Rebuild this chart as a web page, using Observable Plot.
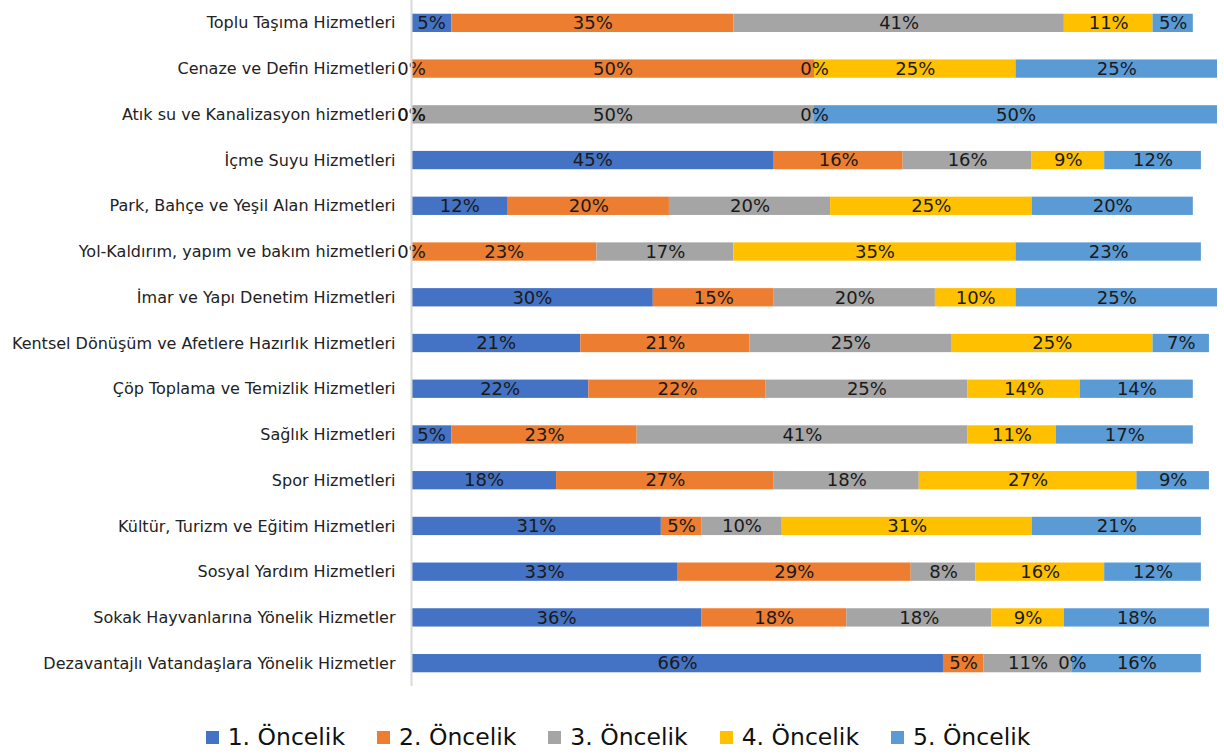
<!DOCTYPE html>
<html>
<head>
<meta charset="utf-8">
<script src="https://cdn.jsdelivr.net/npm/d3@7"></script>
<script src="https://cdn.jsdelivr.net/npm/@observablehq/plot@0.6"></script>
<style>
  html, body { margin: 0; padding: 0; background: #fff; }
  body { width: 1224px; height: 754px; overflow: hidden; font-family: "DejaVu Sans", Verdana, sans-serif; }
  #legend { display: flex; justify-content: center; align-items: center; gap: 32px; margin-top: 36px; padding-left: 12px; line-height: 30px; }
  .item { display: flex; align-items: center; font-size: 23.5px; color: #111; }
  .sw { width: 13px; height: 13px; margin-right: 9px; }
</style>
</head>
<body>
<div id="chart"></div>
<div id="legend"></div>
<script>
const categories = [
  "Toplu Taşıma Hizmetleri",
  "Cenaze ve Defin Hizmetleri",
  "Atık su ve Kanalizasyon hizmetleri",
  "İçme Suyu Hizmetleri",
  "Park, Bahçe ve Yeşil Alan Hizmetleri",
  "Yol-Kaldırım, yapım ve bakım hizmetleri",
  "İmar ve Yapı Denetim Hizmetleri",
  "Kentsel Dönüşüm ve Afetlere Hazırlık Hizmetleri",
  "Çöp Toplama ve Temizlik Hizmetleri",
  "Sağlık Hizmetleri",
  "Spor Hizmetleri",
  "Kültür, Turizm ve Eğitim Hizmetleri",
  "Sosyal Yardım Hizmetleri",
  "Sokak Hayvanlarına Yönelik Hizmetler",
  "Dezavantajlı Vatandaşlara Yönelik Hizmetler"
];
const seriesNames = ["1. Öncelik", "2. Öncelik", "3. Öncelik", "4. Öncelik", "5. Öncelik"];
const seriesColors = ["#4472C4", "#ED7D31", "#A5A5A5", "#FFC000", "#5B9BD5"];

const oncelik1 = [5, 0, 0, 45, 12, 0, 30, 21, 22, 5, 18, 31, 33, 36, 66];
const oncelik2 = [35, 50, 0, 16, 20, 23, 15, 21, 22, 23, 27, 5, 29, 18, 5];
const oncelik3 = [41, 0, 50, 16, 20, 17, 20, 25, 25, 41, 18, 10, 8, 18, 11];
const oncelik4 = [11, 25, 0, 9, 25, 35, 10, 25, 14, 11, 27, 31, 16, 9, 0];
const oncelik5 = [5, 25, 50, 12, 20, 23, 25, 7, 14, 17, 9, 21, 12, 18, 16];
const seriesValues = [oncelik1, oncelik2, oncelik3, oncelik4, oncelik5];

const data = [];
categories.forEach((c, i) => {
  seriesNames.forEach((s, j) => {
    data.push({cat: c, series: s, value: seriesValues[j][i]});
  });
});

const chart = Plot.plot({
  width: 1224,
  height: 686,
  marginLeft: 411,
  marginRight: 7,
  marginTop: 0,
  marginBottom: 0,
  style: {fontFamily: "DejaVu Sans, Verdana, sans-serif", background: "#fff"},
  x: {domain: [0, 100], axis: null},
  y: {domain: categories, paddingInner: 0.6, paddingOuter: 0.3, round: false, label: null},
  color: {domain: seriesNames, range: seriesColors},
  marks: [
    Plot.barX(data, Plot.stackX({x: "value", y: "cat", fill: "series", z: "series", order: seriesNames})),
    Plot.text(data, Plot.stackX({x: "value", y: "cat", z: "series", order: seriesNames,
      text: d => d.value + "%", fill: "#1a1a1a", fontSize: 18, textAnchor: "middle"})),
    Plot.ruleX([0], {stroke: "#d9d9d9", strokeWidth: 2}),
    Plot.axisY({tickSize: 0, tickPadding: 16, fontSize: 16, fill: "#222", label: null})
  ]
});
document.getElementById("chart").appendChild(chart);

const legend = document.getElementById("legend");
seriesNames.forEach((s, j) => {
  const it = document.createElement("div");
  it.className = "item";
  const sw = document.createElement("span");
  sw.className = "sw";
  sw.style.background = seriesColors[j];
  it.appendChild(sw);
  it.appendChild(document.createTextNode(s));
  legend.appendChild(it);
});
</script>
</body>
</html>
